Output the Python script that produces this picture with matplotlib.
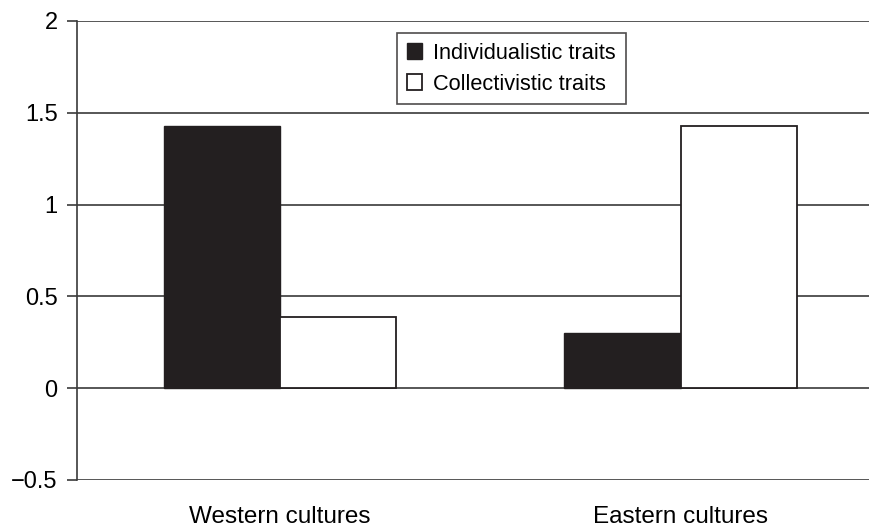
import numpy as np
import matplotlib
matplotlib.use("Agg")
import matplotlib.pyplot as plt

plt.rcParams['font.family'] = ['Liberation Sans', 'DejaVu Sans']

categories = ['Western cultures', 'Eastern cultures']
individualistic = [1.43, 0.30]
collectivistic = [0.39, 1.43]
y_ticks = [-0.5, 0, 0.5, 1, 1.5, 2]
y_labels = ['\u22120.5', '0', '0.5', '1', '1.5', '2']

dark = '#231f20'
x = np.arange(len(categories))
w = 0.29

fig = plt.figure(figsize=(8.69, 5.27), dpi=100)
ax = fig.add_axes([77/869, 1 - 480/527, 1 - 77/869 + 0.01, (480 - 21)/527])

for y in y_ticks:
    ax.axhline(y, color='#3a3a3a', lw=1.2, zorder=1)

ax.bar(x - w/2, individualistic, w, color=dark, edgecolor=dark, lw=1, zorder=3,
       label='Individualistic traits')
ax.bar(x + w/2, collectivistic, w, color='white', edgecolor=dark, lw=1.3, zorder=3,
       label='Collectivistic traits')

ax.set_xlim(-0.506, 1.492)
ax.set_ylim(-0.5, 2)
ax.set_yticks(y_ticks)
ax.set_yticklabels(y_labels)
ax.set_xticks(x)
ax.set_xticklabels(categories)
ax.tick_params(axis='y', length=7, width=1.2, color='#3a3a3a', labelsize=17, pad=7)
ax.tick_params(axis='x', length=0, labelsize=17.5, pad=19)

for s in ['top', 'right', 'bottom']:
    ax.spines[s].set_visible(False)
ax.spines['left'].set_color('#3a3a3a')
ax.spines['left'].set_linewidth(1.2)

leg = ax.legend(loc='upper left', bbox_to_anchor=(0.40, 0.974), fontsize=15.7,
                frameon=True, fancybox=False, handlelength=0.7, handleheight=0.7,
                handletextpad=0.5, borderpad=0.45, labelspacing=0.45,
                borderaxespad=0)
leg.get_frame().set_edgecolor(dark)
leg.get_frame().set_linewidth(1.2)

fig.savefig('out.png', dpi=100)
